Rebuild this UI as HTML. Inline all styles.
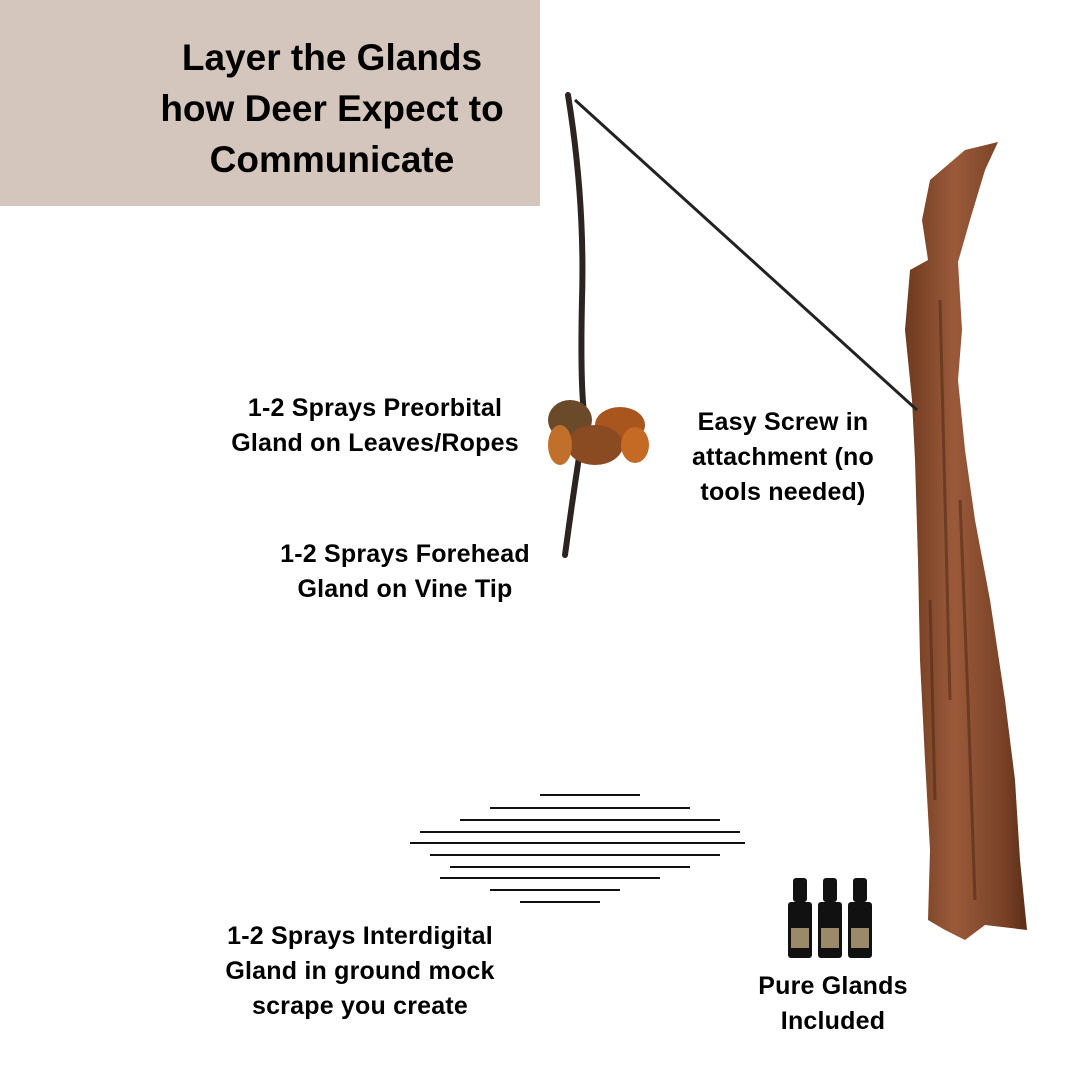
<!DOCTYPE html>
<html><head><meta charset="utf-8"><style>
body{margin:0;width:1080px;height:1080px;background:#fff;position:relative;overflow:hidden;font-family:"Liberation Sans",sans-serif;font-weight:bold;color:#000}
.hdr{position:absolute;left:0;top:0;width:540px;height:206px;background:#d4c6bc}
.t{position:absolute;text-align:center;white-space:nowrap;transform:translateX(-50%)}
.title{font-size:37px;line-height:51px;top:32px;left:332px}
.lbl{font-size:25px;line-height:35px;letter-spacing:0.2px}
svg{position:absolute;left:0;top:0}
</style></head><body>
<div class="hdr"></div>
<div class="t title">Layer the Glands<br>how Deer Expect to<br>Communicate</div>
<svg width="1080" height="1080">
<defs><linearGradient id="g" x1="0" x2="1"><stop offset="0" stop-color="#6e3a1f"/><stop offset=".4" stop-color="#9a5a3a"/><stop offset=".8" stop-color="#7a4227"/><stop offset="1" stop-color="#5a2e18"/></linearGradient></defs>
<path d="M930 180 L965 150 L998 142 L985 170 L970 220 L958 262 L962 330 L958 380 L965 450 L975 520 L990 600 L1005 700 L1015 780 L1020 860 L1027 930 L985 925 L965 940 L945 930 L928 920 L930 850 L925 760 L920 660 L918 560 L915 460 L912 400 L905 330 L910 270 L928 260 L922 220 Z" fill="url(#g)"/>
<g stroke="#4a2412" stroke-width="3" opacity=".5" fill="none">
<path d="M940 300 L945 500 L950 700"/><path d="M930 600 L935 800"/><path d="M960 500 L968 700 L975 900"/></g>
<path d="M568 95 Q585 200 582 300 Q580 390 585 420 Q575 480 565 555" stroke="#2c2420" stroke-width="6" fill="none" stroke-linecap="round"/>
<line x1="575" y1="100" x2="917" y2="410" stroke="#222" stroke-width="3"/>
<g fill="#a8561e"><ellipse cx="570" cy="420" rx="22" ry="20" fill="#6b4a2a"/><ellipse cx="620" cy="425" rx="25" ry="18"/><ellipse cx="595" cy="445" rx="28" ry="20" fill="#8a4a22"/><ellipse cx="560" cy="445" rx="12" ry="20" fill="#c0702a"/><ellipse cx="635" cy="445" rx="14" ry="18" fill="#c46a24"/></g>
<g stroke="#111" stroke-width="2">
<line x1="540" y1="795" x2="640" y2="795"/><line x1="490" y1="808" x2="690" y2="808"/><line x1="460" y1="820" x2="720" y2="820"/><line x1="420" y1="832" x2="740" y2="832"/><line x1="410" y1="843" x2="745" y2="843"/><line x1="430" y1="855" x2="720" y2="855"/><line x1="450" y1="867" x2="690" y2="867"/><line x1="440" y1="878" x2="660" y2="878"/><line x1="490" y1="890" x2="620" y2="890"/><line x1="520" y1="902" x2="600" y2="902"/></g>
<g fill="#111"><rect x="793" y="878" width="14" height="24" rx="3"/><rect x="788" y="902" width="24" height="56" rx="3"/>
<rect x="823" y="878" width="14" height="24" rx="3"/><rect x="818" y="902" width="24" height="56" rx="3"/>
<rect x="853" y="878" width="14" height="24" rx="3"/><rect x="848" y="902" width="24" height="56" rx="3"/></g>
<g fill="#9b8a6a"><rect x="791" y="928" width="18" height="20"/><rect x="821" y="928" width="18" height="20"/><rect x="851" y="928" width="18" height="20"/></g>
</svg>
<div class="t lbl" style="left:375px;top:391px">1-2 Sprays Preorbital<br>Gland on Leaves/Ropes</div>
<div class="t lbl" style="left:783px;top:405px">Easy Screw in<br>attachment (no<br>tools needed)</div>
<div class="t lbl" style="left:405px;top:537px">1-2 Sprays Forehead<br>Gland on Vine Tip</div>
<div class="t lbl" style="left:360px;top:919px">1-2 Sprays Interdigital<br>Gland in ground mock<br>scrape you create</div>
<div class="t lbl" style="left:833px;top:969px">Pure Glands<br>Included</div>
</body></html>
